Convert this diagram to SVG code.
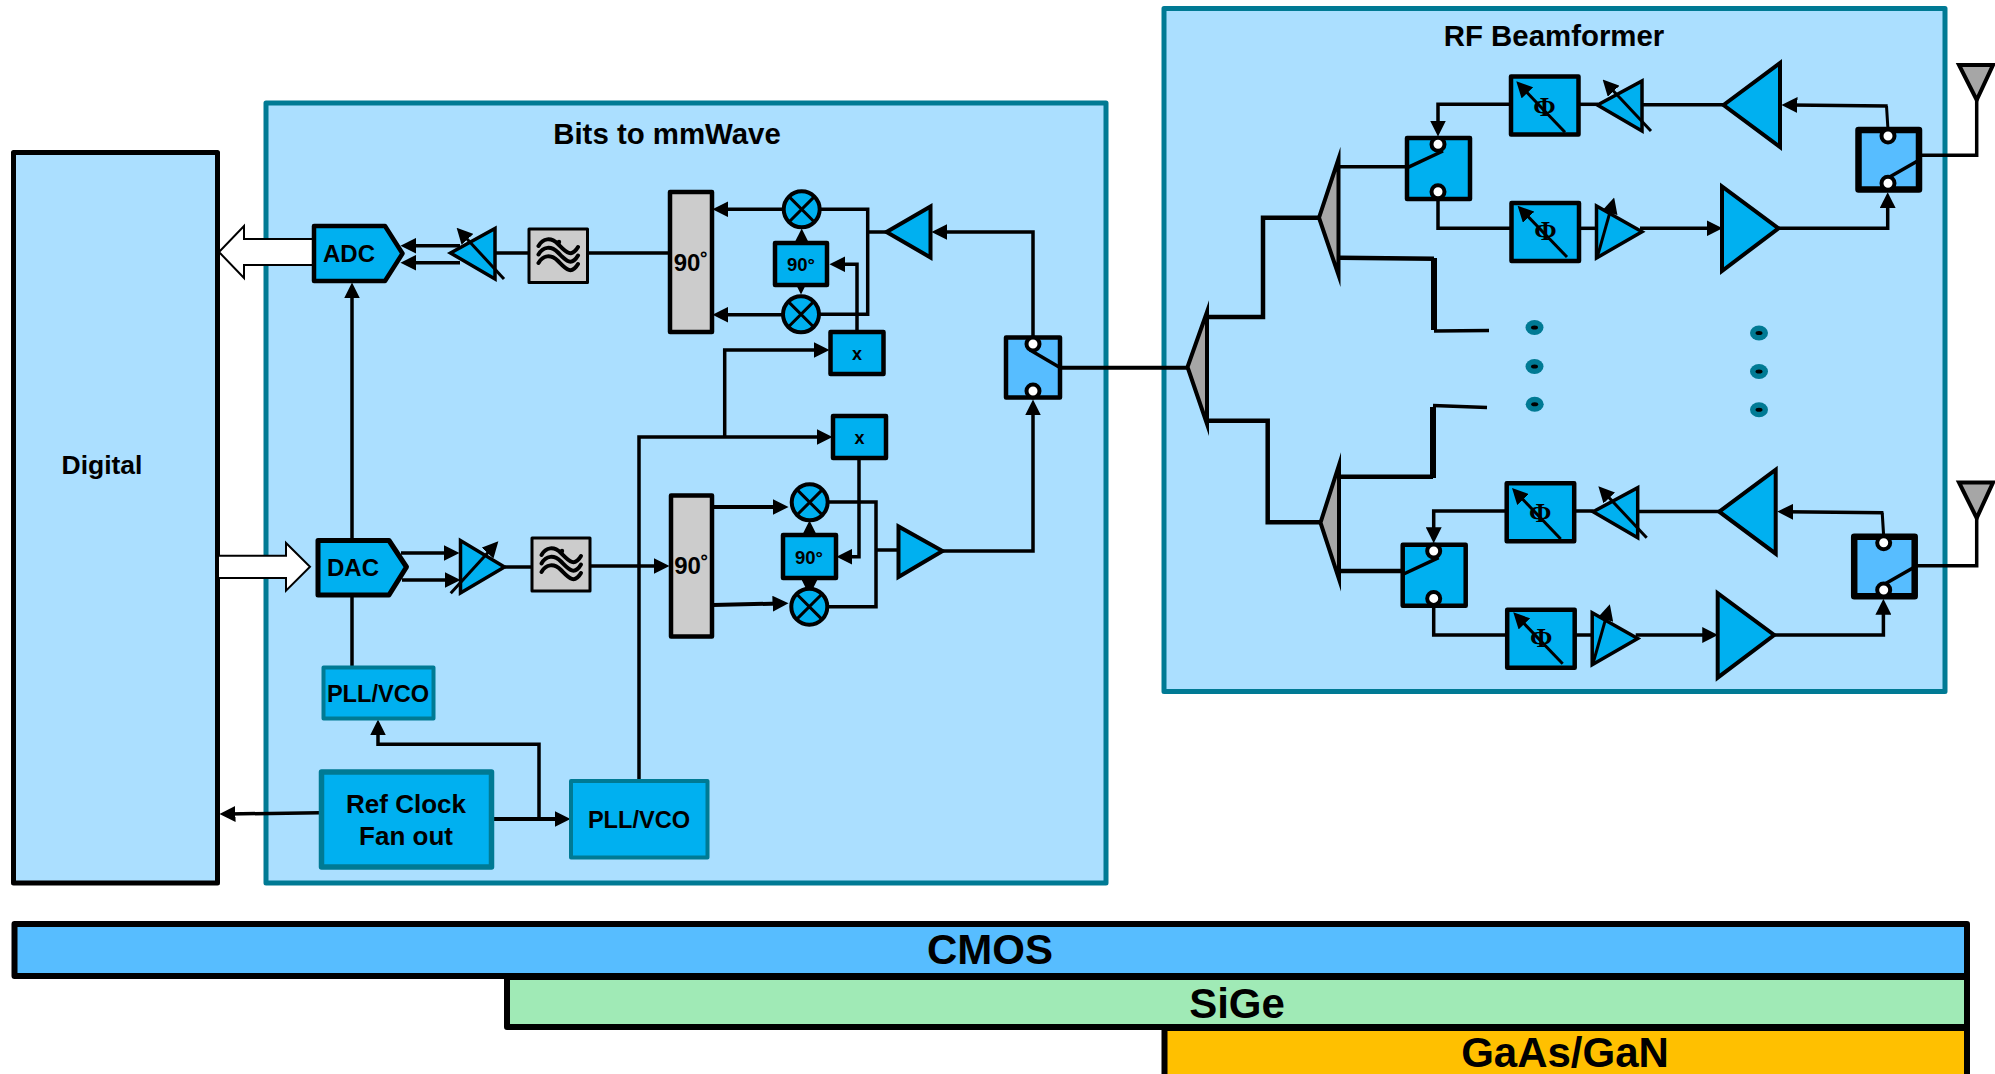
<svg xmlns="http://www.w3.org/2000/svg" xmlns:xlink="http://www.w3.org/1999/xlink" width="1995" height="1074" viewBox="0 0 1995 1074">
<style>
text{font-family:"Liberation Sans",Arial,sans-serif;font-weight:700;fill:#000;text-anchor:middle}
.panel{fill:#abdfff;stroke:#007a94;stroke-width:5;stroke-linejoin:round}
.blk{fill:#00b0f0;stroke:#000;stroke-width:4.5;stroke-linejoin:round}
.amp{fill:#00b0f0;stroke:#000;stroke-width:4;stroke-miterlimit:10}
.ampthin{fill:#00b0f0;stroke:#000;stroke-width:3.5;stroke-miterlimit:10}
.sw{fill:#57bdff;stroke:#000;stroke-width:4.5;stroke-linejoin:round}
.swt{fill:#57bdff;stroke:#000;stroke-width:6.5;stroke-linejoin:round}
.gray{fill:#ccc;stroke:#000;stroke-width:4.5;stroke-linejoin:round}
.flt{fill:#ccc;stroke:#000;stroke-width:3;stroke-linejoin:round}
.split{fill:#a6a6a6;stroke:#000;stroke-width:4;stroke-miterlimit:12}
.pll{fill:#00b0f0;stroke:#007a94;stroke-width:4;stroke-linejoin:round}
.ref{fill:#00b0f0;stroke:#007a94;stroke-width:5.5;stroke-linejoin:round}
.w{fill:none;stroke:#000;stroke-width:3.5;stroke-linejoin:miter}
.wt{fill:none;stroke:#000;stroke-width:6}
.bus{fill:#fff;stroke:#000;stroke-width:2}
.pin{fill:#fff;stroke:#000;stroke-width:4}
.l{fill:none;stroke:#000;stroke-width:3}
.wave{fill:none;stroke:#000;stroke-width:4;stroke-linecap:round}
.dot{fill:#007a94}
.bar{stroke:#000;stroke-width:6;stroke-linejoin:round}
.phi{font-family:"Liberation Serif",serif;font-weight:700;font-size:27px}
.t90{font-size:24px}
.s90{font-size:18.5px}
.tx{font-size:18px}
.pl{font-size:23.6px}
.tt{font-size:29.4px}
.big{font-size:42px}
</style>
<defs>
<marker id="ah" markerUnits="userSpaceOnUse" markerWidth="16" markerHeight="16" viewBox="0 0 15 15" refX="7" refY="7.5" orient="auto"><path d="M0,0L15,7.5L0,15z" fill="#000"/></marker>
<g id="waves"><path class="wave" d="M9.500,17C14,9 22,8 29,15S42,30 49,18"/><path class="wave" d="M9.500,25.500C14,17.500 22,16.500 29,23.500S42,38.500 49,26.500"/><path class="wave" d="M9.500,34C14,26 22,25 29,32S42,47 49,35"/><circle cx="30" cy="13" r="2.200" fill="#000"/></g>
<g id="mx"><circle r="18" class="amp"/><path class="l" d="M-12.7,-12.7L12.7,12.7M-12.7,12.7L12.7,-12.7"/></g>
<g id="dt"><ellipse rx="9" ry="7.5" class="dot"/><ellipse rx="3.5" ry="2" fill="#000"/></g>
</defs>

<rect id="panel-digital" x="13.500" y="152.500" width="204" height="730.500" fill="#abdfff" stroke="#000" stroke-width="5" stroke-linejoin="round"/>
<rect id="panel-bits" x="266" y="103" width="840" height="780" class="panel"/>
<rect id="panel-rf" x="1164" y="8.500" width="781" height="683" class="panel"/>
<text x="667" y="144" class="tt">Bits to mmWave</text>
<text x="1554" y="45.500" class="tt">RF Beamformer</text>
<text x="102" y="474" style="font-size:26.5px">Digital</text>

<g id="connectors">
<path class="w" d="M460,245.7H409" marker-end="url(#ah)"/>
<path class="w" d="M460,262.7H409" marker-end="url(#ah)"/>
<path class="w" d="M494,253H528"/>
<path class="w" d="M588,253H670"/>
<path class="w" d="M782,209.3H721" marker-end="url(#ah)"/>
<path class="w" d="M782,314.7H721" marker-end="url(#ah)"/>
<path class="w" d="M801.7,242V237" marker-end="url(#ah)"/>
<path class="w" d="M801,280V286" marker-end="url(#ah)"/>
<path class="w" d="M857,331V264.3H838" marker-end="url(#ah)"/>
<path class="w" d="M821,209.3H867.7V314.3H820"/>
<path class="w" d="M868,232H887"/>
<path class="w" d="M1033,340V232H940" marker-end="url(#ah)"/>
<path class="w" d="M1060,367.7H1192" style="stroke-width:4"/>
<path class="w" d="M724.7,437V350H821" marker-end="url(#ah)"/>
<path class="w" d="M639,780V437H824" marker-end="url(#ah)"/>
<path class="w" d="M859,459V556.7H845" marker-end="url(#ah)"/>
<path class="w" d="M713,507H780" style="stroke-width:4" marker-end="url(#ah)"/>
<path class="w" d="M713,605L780,603.5" style="stroke-width:4" marker-end="url(#ah)"/>
<path class="w" d="M809.5,537V529" marker-end="url(#ah)"/>
<path class="w" d="M809.5,574V587" marker-end="url(#ah)"/>
<path class="w" d="M829,502H876V606.7H828"/>
<path class="w" d="M876,550H899"/>
<path class="w" d="M943,551H1033V408" marker-end="url(#ah)"/>
<path class="w" d="M401,553H451" marker-end="url(#ah)"/>
<path class="w" d="M402,580H452" marker-end="url(#ah)"/>
<path class="w" d="M505,567H531"/>
<path class="w" d="M591,566H661" marker-end="url(#ah)"/>
<path class="w" d="M352,539V291" marker-end="url(#ah)"/>
<path class="w" d="M352,596V667"/>
<path class="w" d="M539,819V744.3H378V728" marker-end="url(#ah)"/>
<path class="w" d="M320,812.7L228,814" marker-end="url(#ah)"/>
<path class="w" d="M492,819H562" style="stroke-width:4" marker-end="url(#ah)"/>
<path class="w" d="M1208,317H1263V217.7H1321" style="stroke-width:4.5"/>
<path class="w" d="M1208,420.7H1267.7V522.3H1322" style="stroke-width:4.5"/>
<path class="w" d="M1340,166.7H1406"/>
<path class="w" d="M1340,257.7L1434,258.7" style="stroke-width:4.5"/>
<path class="wt" d="M1434,258V330"/>
<path class="w" d="M1434,331L1489,330.5"/>
<path class="w" d="M1340,476.7H1433" style="stroke-width:4.5"/>
<path class="wt" d="M1433,478V407"/>
<path class="w" d="M1433,405.5L1487,407.5"/>
<path class="w" d="M1340,571H1405" style="stroke-width:4.5"/>
<path class="w" d="M1920,155.3H1976.7V100"/>
<path class="w" d="M1915,565.7H1976.7V518"/>
<g id="upper-links">
<path class="w" d="M1510,104.3H1438V128" marker-end="url(#ah)"/>
<path class="w" d="M1438,199V228.3H1510"/>
<path class="w" d="M1579,104.3H1598"/>
<path class="w" d="M1641,104.7H1724"/>
<path class="w" d="M1887.7,106L1790,105" marker-end="url(#ah)"/>
<path class="l" d="M1886.5,106L1888,130"/>
<path class="w" d="M1580,228.3H1597"/>
<path class="w" d="M1640,228.3H1714" marker-end="url(#ah)"/>
<path class="w" d="M1779,228.3H1887.7V200.7" marker-end="url(#ah)"/>
</g>
<g id="lower-links" transform="translate(-4.3,406.7)">
<path class="w" d="M1510,104.3H1438V128" marker-end="url(#ah)"/>
<path class="w" d="M1438,199V228.3H1510"/>
<path class="w" d="M1579,104.3H1598"/>
<path class="w" d="M1641,104.7H1724"/>
<path class="w" d="M1887.7,106L1790,105" marker-end="url(#ah)"/>
<path class="l" d="M1886.5,106L1888,130"/>
<path class="w" d="M1580,228.3H1597"/>
<path class="w" d="M1640,228.3H1714" marker-end="url(#ah)"/>
<path class="w" d="M1779,228.3H1887.7V200.7" marker-end="url(#ah)"/>
</g>
</g>

<g id="bus-out"><path class="bus" d="M313,239H244V226L219,252L244,278V265H313z"/></g>
<g id="bus-in"><path class="bus" d="M218,555.7H286V543L310,566.7L286,590.7V578H218z"/></g>

<g id="adc"><path class="blk" d="M314,226H385L402.500,253.500L385,281H314z"/><text x="349" y="262" style="font-size:24px">ADC</text></g>
<g id="dac"><path class="blk" d="M318,540.500H389L406.500,567L389,595H318z" style="stroke-width:5"/><text x="353" y="575.5" style="font-size:24px">DAC</text></g>
<g id="rx-vga"><path class="ampthin" d="M450.500,253L495,228.500V279z"/><path class="l" d="M504,279L462.4,233.9" marker-end="url(#ah)"/></g>
<g id="tx-vga"><path class="ampthin" d="M460.500,540.500V593L504.500,567z"/><path class="l" d="M450.7,593.3L492.6,547.6" marker-end="url(#ah)"/></g>
<g id="rx-filter"><rect class="flt" x="529" y="229" width="58.500" height="53.500"/><use xlink:href="#waves" href="#waves" x="529" y="229"/></g>
<g id="tx-filter"><rect class="flt" x="532" y="538" width="58" height="53"/><use xlink:href="#waves" href="#waves" x="532" y="538"/></g>
<g id="rx-90"><rect class="gray" x="670" y="192" width="42" height="140"/><text x="691" y="271" class="t90">90˚</text></g>
<g id="tx-90"><rect class="gray" x="671" y="495.500" width="41" height="141"/><text x="691.500" y="574" class="t90">90˚</text></g>
<g id="rx-mix-i"><use xlink:href="#mx" href="#mx" x="801.7" y="209.3"/></g>
<g id="rx-mix-q"><use xlink:href="#mx" href="#mx" x="801" y="314.3"/></g>
<g id="tx-mix-i"><use xlink:href="#mx" href="#mx" x="809.7" y="502.3"/></g>
<g id="tx-mix-q"><use xlink:href="#mx" href="#mx" x="809.300" y="606.7"/></g>
<g id="rx-q"><rect class="blk" x="775" y="243" width="52" height="42"/><text x="801" y="271" class="s90">90°</text></g>
<g id="tx-q"><rect class="blk" x="783" y="535" width="53" height="43"/><text x="809" y="564" class="s90">90°</text></g>
<g id="rx-x"><rect class="blk" x="830.500" y="332" width="53" height="42"/><text x="857" y="360" class="tx">x</text></g>
<g id="tx-x"><rect class="blk" x="833" y="416" width="53" height="42"/><text x="859.5" y="444" class="tx">x</text></g>
<g id="rx-lna"><path class="amp" d="M886.500,232L930.500,206.500V257.500z"/></g>
<g id="tx-pa"><path class="amp" d="M898.500,526.500V577L942.500,551z"/></g>
<g id="trx-sw"><rect class="sw" x="1006" y="337.500" width="54" height="60"/><circle class="pin" cx="1033" cy="344" r="6.500"/><circle class="pin" cx="1033" cy="391" r="6.500"/><path class="w" d="M1030,350L1059,367"/></g>
<g id="pll-1"><rect class="pll" x="323.500" y="667.500" width="110" height="51"/><text x="378" y="701.500" class="pl">PLL/VCO</text></g>
<g id="ref"><rect class="ref" x="321.500" y="772" width="170" height="95"/><text x="406" y="812.700" style="font-size:26px">Ref Clock</text><text x="406" y="845" style="font-size:26px">Fan out</text></g>
<g id="pll-2"><rect class="pll" x="571" y="781" width="136.500" height="76.500"/><text x="639" y="828" class="pl">PLL/VCO</text></g>

<g id="split-main"><path class="split" d="M1207,312L1187.500,367L1207,424z"/></g>
<g id="split-upper"><path class="split" d="M1338.500,159L1319,217.700L1338.500,275z"/></g>
<g id="split-lower"><path class="split" d="M1339,465L1320.500,522.700L1339,579z"/></g>

<g id="up-sw"><rect class="blk" x="1407" y="138" width="63" height="61"/><circle class="pin" cx="1438" cy="144.300" r="6.500"/><circle class="pin" cx="1438" cy="191.700" r="6.500"/><path class="w" d="M1408,167.300L1443,151"/></g>
<g id="up-ps1"><rect class="blk" x="1511" y="76.500" width="67.500" height="58"/><text class="phi" x="1544.500" y="115.500">Φ</text><path class="l" d="M1565,132.300L1522.200,87.500" marker-end="url(#ah)"/></g>
<g id="up-ps2"><rect class="blk" x="1511.500" y="203" width="67.500" height="58"/><text class="phi" x="1545.500" y="240">Φ</text><path class="l" d="M1567,257L1523.500,211.800" marker-end="url(#ah)"/></g>
<g id="up-vga1"><path class="ampthin" d="M1597.500,105L1642,81V131z"/><path class="l" d="M1651,131L1608.500,85.800" marker-end="url(#ah)"/></g>
<g id="up-vga2"><path class="ampthin" d="M1596.500,206V258L1642,231.700z"/><path class="l" d="M1597,258L1611.800,205.700" marker-end="url(#ah)"/></g>
<g id="up-amp1"><path class="amp" d="M1723.500,105L1780,63V147z"/></g>
<g id="up-amp2"><path class="amp" d="M1722,186.500V271L1778.500,228.300z"/></g>
<g id="up-trsw"><rect class="swt" x="1858.500" y="130" width="60.500" height="59.500"/><circle class="pin" cx="1888" cy="136" r="6.500"/><circle class="pin" cx="1888" cy="183.300" r="6.500"/><path class="w" d="M1890,176.700L1918,160.700"/></g>
<g id="ant-1"><path class="split" d="M1959,65H1993L1976.700,100z"/></g>

<g id="lo-sw" transform="translate(-4.3,406.7)"><rect class="blk" x="1407" y="138" width="63" height="61"/><circle class="pin" cx="1438" cy="144.300" r="6.500"/><circle class="pin" cx="1438" cy="191.700" r="6.500"/><path class="w" d="M1408,167.300L1443,151"/></g>
<g id="lo-ps1" transform="translate(-4.3,406.7)"><rect class="blk" x="1511" y="76.500" width="67.500" height="58"/><text class="phi" x="1544.500" y="115.500">Φ</text><path class="l" d="M1565,132.300L1522.200,87.500" marker-end="url(#ah)"/></g>
<g id="lo-ps2" transform="translate(-4.3,406.7)"><rect class="blk" x="1511.500" y="203" width="67.500" height="58"/><text class="phi" x="1545.500" y="240">Φ</text><path class="l" d="M1567,257L1523.500,211.800" marker-end="url(#ah)"/></g>
<g id="lo-vga1" transform="translate(-4.3,406.7)"><path class="ampthin" d="M1597.500,105L1642,81V131z"/><path class="l" d="M1651,131L1608.500,85.800" marker-end="url(#ah)"/></g>
<g id="lo-vga2" transform="translate(-4.3,406.7)"><path class="ampthin" d="M1596.500,206V258L1642,231.700z"/><path class="l" d="M1597,258L1611.800,205.700" marker-end="url(#ah)"/></g>
<g id="lo-amp1" transform="translate(-4.3,406.7)"><path class="amp" d="M1723.500,105L1780,63V147z"/></g>
<g id="lo-amp2" transform="translate(-4.3,406.7)"><path class="amp" d="M1722,186.500V271L1778.500,228.300z"/></g>
<g id="lo-trsw" transform="translate(-4.3,406.7)"><rect class="swt" x="1858.500" y="130" width="60.500" height="59.500"/><circle class="pin" cx="1888" cy="136" r="6.500"/><circle class="pin" cx="1888" cy="183.300" r="6.500"/><path class="w" d="M1890,176.700L1918,160.700"/></g>
<g id="ant-2"><path class="split" d="M1959,482.500H1993L1976.700,518z"/></g>

<g id="dots">
<use xlink:href="#dt" href="#dt" x="1534.500" y="327.500"/><use xlink:href="#dt" href="#dt" x="1534.500" y="366.500"/><use xlink:href="#dt" href="#dt" x="1534.700" y="404.300"/>
<use xlink:href="#dt" href="#dt" x="1759" y="333"/><use xlink:href="#dt" href="#dt" x="1759" y="371.500"/><use xlink:href="#dt" href="#dt" x="1759" y="409.700"/>
</g>

<g id="bar-cmos"><rect class="bar" x="14.500" y="924" width="1952.500" height="52" fill="#57bdff"/><text x="990" y="964" class="big">CMOS</text></g>
<g id="bar-sige"><rect class="bar" x="507" y="977" width="1460" height="50" fill="#a0eab6"/><text x="1237" y="1018" class="big">SiGe</text></g>
<g id="bar-gaas"><rect class="bar" x="1164.500" y="1028" width="802.500" height="60" fill="#ffc000"/><text x="1565" y="1067" class="big">GaAs/GaN</text></g>
</svg>
